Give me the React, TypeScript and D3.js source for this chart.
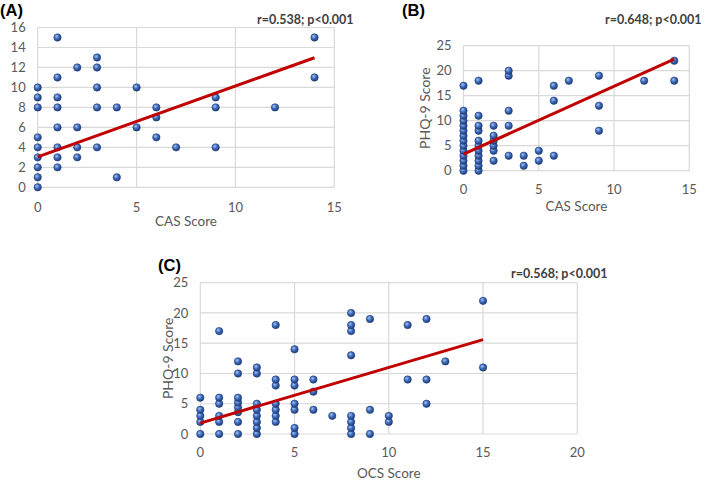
import * as d3 from 'd3';

// CAS score vs OCS score (panel A)
const pointsA: [number, number][] = [
  [0, 0], [0, 1], [0, 2], [0, 3], [0, 4], [0, 5], [0, 8], [0, 9], [0, 10],
  [1, 2], [1, 3], [1, 4], [1, 6], [1, 8], [1, 9], [1, 11], [1, 15],
  [2, 3], [2, 4], [2, 6], [2, 12],
  [3, 4], [3, 8], [3, 10], [3, 12], [3, 13],
  [4, 1], [4, 8], [5, 6], [5, 10], [6, 5], [6, 7], [6, 8], [7, 4],
  [9, 4], [9, 8], [9, 9], [12, 8], [14, 11], [14, 15],
];
// CAS score vs PHQ-9 (panel B)
const pointsB: [number, number][] = [
  [0, 0], [0, 1], [0, 2], [0, 3], [0, 4], [0, 5], [0, 6], [0, 7], [0, 8], [0, 9], [0, 10], [0, 11], [0, 12], [0, 17],
  [1, 0], [1, 1], [1, 2], [1, 3], [1, 4], [1, 5], [1, 6], [1, 8], [1, 9], [1, 11], [1, 18],
  [2, 2], [2, 4], [2, 5], [2, 6], [2, 7], [2, 9],
  [3, 3], [3, 9], [3, 12], [3, 19], [3, 20],
  [4, 1], [4, 3], [5, 2], [5, 4], [6, 3], [6, 14], [6, 17], [7, 18],
  [9, 8], [9, 13], [9, 19], [12, 18], [14, 18], [14, 22],
];
// OCS score vs PHQ-9 (panel C)
const pointsC: [number, number][] = [
  [0, 0], [0, 2], [0, 3], [0, 4], [0, 6],
  [1, 0], [1, 2], [1, 3], [1, 5], [1, 6], [1, 17],
  [2, 0], [2, 2], [2, 3.6], [2, 4.4], [2, 5.2], [2, 6], [2, 10], [2, 12],
  [3, 0], [3, 1], [3, 2], [3, 3], [3, 4], [3, 5], [3, 10], [3, 11],
  [4, 2], [4, 3], [4, 4], [4, 5], [4, 8], [4, 9], [4, 18],
  [5, 0], [5, 1], [5, 4], [5, 5], [5, 8], [5, 9], [5, 14],
  [6, 4], [6, 7], [6, 9], [7, 3],
  [8, 0], [8, 1], [8, 2], [8, 3], [8, 13], [8, 17], [8, 18], [8, 20],
  [9, 0], [9, 4], [9, 19], [10, 2], [10, 3],
  [11, 9], [11, 18], [12, 5], [12, 9], [12, 19], [13, 12], [15, 11], [15, 22],
];

// trend line end points
const trendA: [number, number][] = [[0, 3.05], [14, 12.97]];
const trendB: [number, number][] = [[0, 3.3], [14, 22.3]];
const trendC: [number, number][] = [[0, 1.8], [15, 15.6]];

const ticksXA = [0, 5, 10, 15];
const ticksYA = [0, 2, 4, 6, 8, 10, 12, 14, 16];
const ticksXB = [0, 5, 10, 15];
const ticksYB = [0, 5, 10, 15, 20, 25];
const ticksXC = [0, 5, 10, 15, 20];
const ticksYC = [0, 5, 10, 15, 20, 25];

const statA = 'r=0.538; p<0.001';
const statB = 'r=0.648; p<0.001';
const statC = 'r=0.568; p<0.001';

const font = 'Lato, "Open Sans", sans-serif';

type PanelProps = {
  box: { left: number; right: number; top: number; bottom: number };
  xTicks: number[];
  yTicks: number[];
  points: [number, number][];
  trend: [number, number][];
  xLabel: string;
  yLabel?: string;
  yLabelX?: number;
  xLabelY: number;
  tickGap: number;
};

const Panel = ({ box, xTicks, yTicks, points, trend, xLabel, yLabel, yLabelX, xLabelY, tickGap }: PanelProps) => {
  const x = d3.scaleLinear().domain([xTicks[0], xTicks[xTicks.length - 1]]).range([box.left, box.right]);
  const y = d3.scaleLinear().domain([yTicks[0], yTicks[yTicks.length - 1]]).range([box.bottom, box.top]);
  const line = d3.line<[number, number]>().x((d) => x(d[0])).y((d) => y(d[1]));
  const midX = (box.left + box.right) / 2;
  const midY = (box.top + box.bottom) / 2;
  return (
    <g>
      {yTicks.map((t) => (
        <line key={'h' + t} x1={box.left} x2={box.right} y1={y(t)} y2={y(t)} stroke="#d9d9d9" strokeWidth={1.2} />
      ))}
      {xTicks.map((t) => (
        <line key={'v' + t} x1={x(t)} x2={x(t)} y1={box.top} y2={box.bottom} stroke="#d9d9d9" strokeWidth={1.2} />
      ))}
      {yTicks.map((t) => (
        <text key={'yl' + t} x={box.left - 12} y={y(t)} dy="0.36em" textAnchor="end" fontSize={13} fill="#595959" fontFamily={font}>
          {t}
        </text>
      ))}
      {xTicks.map((t) => (
        <text key={'xl' + t} x={x(t)} y={box.bottom + tickGap} dy="0.36em" textAnchor="middle" fontSize={13} fill="#595959" fontFamily={font}>
          {t}
        </text>
      ))}
      <text x={midX} y={xLabelY} dy="0.36em" textAnchor="middle" fontSize={13.5} fill="#595959" fontFamily={font}>
        {xLabel}
      </text>
      {yLabel && (
        <text
          transform={`translate(${yLabelX},${midY}) rotate(-90)`}
          dy="0.36em"
          textAnchor="middle"
          fontSize={14}
          fill="#595959"
          fontFamily={font}
        >
          {yLabel}
        </text>
      )}
      {points.map((p, i) => (
        <circle key={i} cx={x(p[0])} cy={y(p[1])} r={3.7} fill="url(#sphere)" stroke="#1f3d78" strokeWidth={0.6} />
      ))}
      <path d={line(trend) || ''} stroke="#c00000" strokeWidth={3} fill="none" />
    </g>
  );
};

export default function App() {
  return (
    <svg width={709} height={484} style={{ position: 'absolute', left: 0, top: 0, background: '#fff' }}>
      <defs>
        <radialGradient id="sphere" cx="0.38" cy="0.35" r="0.7">
          <stop offset="0%" stopColor="#a8c4f0" />
          <stop offset="45%" stopColor="#3f6cbf" />
          <stop offset="100%" stopColor="#1b376f" />
        </radialGradient>
      </defs>

      <Panel
        box={{ left: 37.7, right: 334.3, top: 27.5, bottom: 187.3 }}
        xTicks={ticksXA}
        yTicks={ticksYA}
        points={pointsA}
        trend={trendA}
        xLabel="CAS Score"
        xLabelY={221}
        tickGap={20}
      />
      <Panel
        box={{ left: 463.5, right: 689.3, top: 45.7, bottom: 170.7 }}
        xTicks={ticksXB}
        yTicks={ticksYB}
        points={pointsB}
        trend={trendB}
        xLabel="CAS Score"
        yLabel="PHQ-9 Score"
        yLabelX={425}
        xLabelY={206}
        tickGap={18.5}
      />
      <Panel
        box={{ left: 200.3, right: 577.3, top: 282.7, bottom: 434 }}
        xTicks={ticksXC}
        yTicks={ticksYC}
        points={pointsC}
        trend={trendC}
        xLabel="OCS Score"
        yLabel="PHQ-9 Score"
        yLabelX={168}
        xLabelY={473}
        tickGap={18.7}
      />

      <text x={0} y={16} fontSize={16.5} fontWeight="bold" fontFamily="Liberation Sans, Arial, sans-serif" fill="#000">(A)</text>
      <text x={402} y={16} fontSize={16.5} fontWeight="bold" fontFamily="Liberation Sans, Arial, sans-serif" fill="#000">(B)</text>
      <text x={158} y={271} fontSize={16.5} fontWeight="bold" fontFamily="Liberation Sans, Arial, sans-serif" fill="#000">(C)</text>

      <text x={257} y={19.3} dy="0.36em" fontSize={12.5} fontWeight="bold" fill="#404040" fontFamily={font}>{statA}</text>
      <text x={605} y={19} dy="0.36em" fontSize={12.5} fontWeight="bold" fill="#404040" fontFamily={font}>{statB}</text>
      <text x={511} y={273} dy="0.36em" fontSize={12.5} fontWeight="bold" fill="#404040" fontFamily={font}>{statC}</text>
    </svg>
  );
}
